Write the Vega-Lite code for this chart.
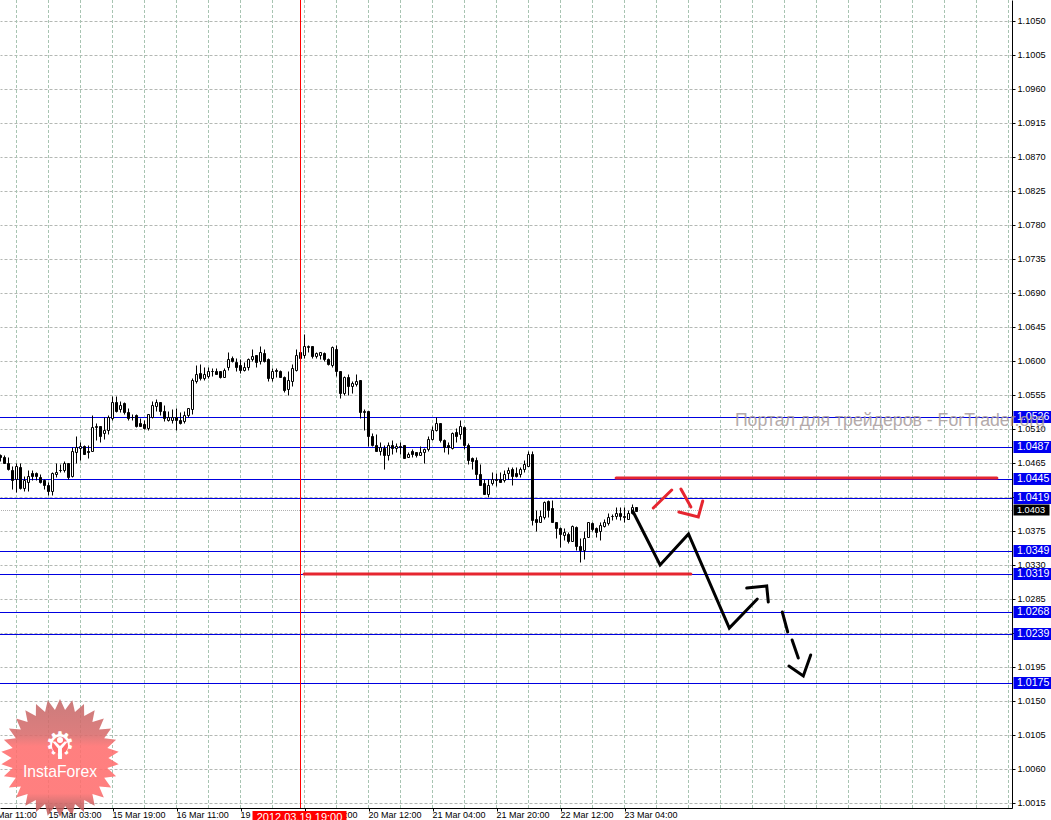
{"$schema":"https://vega.github.io/schema/vega-lite/v6.json","width":1012,"height":808,"autosize":{"type":"none"},"padding":{"left":0,"top":0,"right":39,"bottom":12},"background":"white","config":{"view":{"stroke":null},"text":{"font":"Liberation Sans"}},
"datasets":{
"grid":[{"b":4},{"b":12},{"b":20},{"b":28},{"b":36},{"b":44},{"b":52},{"b":60},{"b":68},{"b":76},{"b":84},{"b":92},{"b":100},{"b":108},{"b":116},{"b":124},{"b":132},{"b":140},{"b":148},{"b":156},{"b":164},{"b":172},{"b":180},{"b":188},{"b":196},{"b":204},{"b":212},{"b":220},{"b":228},{"b":236},{"b":244},{"b":252}],
"levels":[{"p":1.0526},{"p":1.0487},{"p":1.0445},{"p":1.0419},{"p":1.0349},{"p":1.0319},{"p":1.0268},{"p":1.0239},{"p":1.0175}],
"dates":[{"b":-4,"t":"14 Mar 11:00"},{"b":12,"t":"15 Mar 03:00"},{"b":28,"t":"15 Mar 19:00"},{"b":44,"t":"16 Mar 11:00"},{"b":60,"t":"19 Mar 03:00"},{"b":76,"t":"19 Mar 19:00"},{"b":92,"t":"20 Mar 12:00"},{"b":108,"t":"21 Mar 04:00"},{"b":124,"t":"21 Mar 20:00"},{"b":140,"t":"22 Mar 12:00"},{"b":156,"t":"23 Mar 04:00"}],
"black":[{"s":"A","i":0,"b":158.05,"p":1.0402},{"s":"A","i":1,"b":164.9,"p":1.0331},{"s":"A","i":2,"b":172,"p":1.0372},{"s":"A","i":3,"b":182.2,"p":1.0247},{"s":"A","i":4,"b":189.2,"p":1.0286},{"s":"B","i":0,"b":186.55,"p":1.03},{"s":"B","i":1,"b":191.55,"p":1.0303},{"s":"B","i":2,"b":191.95,"p":1.0281},{"s":"C","i":0,"b":195.45,"p":1.0269},{"s":"C","i":1,"b":196.8,"p":1.0242},{"s":"D","i":0,"b":197.9,"p":1.0232},{"s":"D","i":1,"b":199.45,"p":1.0207},{"s":"E","i":0,"b":197.1,"p":1.0197},{"s":"E","i":1,"b":200.7,"p":1.0184},{"s":"E","i":2,"b":202.55,"p":1.0211}],
"red":[{"s":"F","i":0,"b":163.2,"p":1.0406},{"s":"F","i":1,"b":167.8,"p":1.043},{"s":"G","i":0,"b":170.1,"p":1.0431},{"s":"G","i":1,"b":172.6,"p":1.0408},{"s":"H","i":0,"b":169.6,"p":1.0401},{"s":"H","i":1,"b":174.45,"p":1.0394},{"s":"H","i":2,"b":175.55,"p":1.0415},{"s":"I","i":0,"b":153.9,"p":1.0446},{"s":"I","i":1,"b":249.1,"p":1.0446},{"s":"J","i":0,"b":75.9,"p":1.0319},{"s":"J","i":1,"b":172.6,"p":1.0319}],
"candles":[
{"b":0,"h":1.0477,"o":1.0476,"c":1.0473,"l":1.0468},{"b":1,"h":1.0476,"o":1.0474,"c":1.0466,"l":1.0465},{"b":2,"h":1.0473,"o":1.0465,"c":1.0458,"l":1.0457},{"b":3,"h":1.0461,"o":1.0457,"c":1.0443,"l":1.0431},{"b":4,"h":1.0465,"c":1.0461,"o":1.0444,"l":1.0427},{"b":5,"h":1.0465,"o":1.046,"c":1.0433,"l":1.0431},{"b":6,"h":1.0448,"c":1.0443,"o":1.0432,"l":1.0429},{"b":7,"h":1.0457,"c":1.0449,"o":1.0441,"l":1.0429},{"b":8,"h":1.0457,"o":1.0452,"c":1.0449,"l":1.0443},{"b":9,"h":1.0454,"o":1.0453,"c":1.0448,"l":1.0443},
{"b":10,"h":1.0451,"o":1.0447,"c":1.044,"l":1.0439},{"b":11,"h":1.0444,"o":1.0443,"c":1.0437,"l":1.0431},{"b":12,"h":1.0441,"o":1.0437,"c":1.0429,"l":1.0423},{"b":13,"h":1.0454,"c":1.0453,"o":1.0428,"l":1.0423},{"b":14,"h":1.0466,"c":1.0454,"o":1.0451,"l":1.0447},{"b":15,"h":1.0464,"o":1.0457,"c":1.0456,"l":1.0454},{"b":16,"h":1.0468,"c":1.0466,"o":1.0457,"l":1.0454},{"b":17,"h":1.0466,"o":1.0465,"c":1.0447,"l":1.0445},{"b":18,"h":1.0487,"c":1.0481,"o":1.0448,"l":1.0447},{"b":19,"h":1.0502,"c":1.0487,"o":1.048,"l":1.0465},
{"b":20,"h":1.0493,"c":1.0488,"o":1.0485,"l":1.047},{"b":21,"h":1.049,"o":1.0488,"c":1.0478,"l":1.0477},{"b":22,"h":1.0489,"o":1.0482,"c":1.048,"l":1.0472},{"b":23,"h":1.0529,"c":1.0513,"o":1.0482,"l":1.0481},{"b":24,"h":1.0518,"c":1.0515,"o":1.0513,"l":1.0496},{"b":25,"h":1.0515,"o":1.0514,"c":1.0502,"l":1.0493},{"b":26,"h":1.0527,"c":1.0509,"o":1.0505,"l":1.0498},{"b":27,"h":1.0529,"c":1.0527,"o":1.0509,"l":1.0504},{"b":28,"h":1.0554,"c":1.0546,"o":1.0525,"l":1.0522},{"b":29,"h":1.0554,"o":1.0546,"c":1.0535,"l":1.0533},
{"b":30,"h":1.0548,"c":1.0543,"o":1.0537,"l":1.0533},{"b":31,"h":1.0546,"o":1.0545,"c":1.0533,"l":1.0531},{"b":32,"h":1.0538,"o":1.0533,"c":1.0525,"l":1.0523},{"b":33,"h":1.053,"o":1.0527,"c":1.0526,"l":1.0523},{"b":34,"h":1.053,"o":1.0529,"c":1.0514,"l":1.0513},{"b":35,"h":1.0525,"o":1.0519,"c":1.0515,"l":1.0514},{"b":36,"h":1.0523,"o":1.0517,"c":1.0512,"l":1.051},{"b":37,"h":1.0531,"c":1.053,"o":1.0512,"l":1.0509},{"b":38,"h":1.0548,"c":1.0542,"o":1.0526,"l":1.0525},{"b":39,"h":1.055,"c":1.0546,"o":1.0541,"l":1.0535},
{"b":40,"h":1.0547,"o":1.0546,"c":1.0534,"l":1.0529},{"b":41,"h":1.0543,"o":1.0534,"c":1.0525,"l":1.0521},{"b":42,"h":1.0534,"c":1.0526,"o":1.0522,"l":1.0521},{"b":43,"h":1.0537,"c":1.0526,"o":1.0522,"l":1.0519},{"b":44,"h":1.0539,"o":1.0527,"c":1.0522,"l":1.0509},{"b":45,"h":1.0533,"o":1.0522,"c":1.0519,"l":1.0517},{"b":46,"h":1.0535,"c":1.0529,"o":1.0521,"l":1.0519},{"b":47,"h":1.0539,"c":1.0538,"o":1.0529,"l":1.0527},{"b":48,"h":1.0578,"c":1.0576,"o":1.0537,"l":1.053},{"b":49,"h":1.0595,"c":1.0584,"o":1.0574,"l":1.0571},
{"b":50,"h":1.0596,"o":1.0585,"c":1.0578,"l":1.0576},{"b":51,"h":1.0593,"c":1.0584,"o":1.0578,"l":1.0575},{"b":52,"h":1.0593,"c":1.0587,"o":1.0581,"l":1.0578},{"b":53,"h":1.0591,"o":1.0588,"c":1.0587,"l":1.0581},{"b":54,"h":1.0592,"o":1.0587,"c":1.0584,"l":1.0583},{"b":55,"h":1.0588,"o":1.0587,"c":1.0579,"l":1.0578},{"b":56,"h":1.0591,"c":1.0589,"o":1.058,"l":1.0579},{"b":57,"h":1.0612,"c":1.0603,"o":1.0593,"l":1.0589},{"b":58,"h":1.0607,"o":1.0604,"c":1.06,"l":1.0599},{"b":59,"h":1.0605,"o":1.0599,"c":1.0593,"l":1.0588},
{"b":60,"h":1.0603,"o":1.0595,"c":1.0589,"l":1.0585},{"b":61,"h":1.0599,"c":1.0593,"o":1.0589,"l":1.0587},{"b":62,"h":1.0605,"c":1.0603,"o":1.0593,"l":1.0589},{"b":63,"h":1.0616,"c":1.0607,"o":1.0603,"l":1.06},{"b":64,"h":1.0609,"o":1.0608,"c":1.0599,"l":1.0593},{"b":65,"h":1.062,"c":1.0612,"o":1.06,"l":1.0596},{"b":66,"h":1.0617,"o":1.0611,"c":1.06,"l":1.0599},{"b":67,"h":1.0604,"o":1.0603,"c":1.0578,"l":1.0574},{"b":68,"h":1.0592,"c":1.0588,"o":1.0578,"l":1.0574},{"b":69,"h":1.0591,"o":1.0589,"c":1.0588,"l":1.058},
{"b":70,"h":1.0589,"o":1.0588,"c":1.058,"l":1.0579},{"b":71,"h":1.0581,"o":1.058,"c":1.0562,"l":1.056},{"b":72,"h":1.0587,"c":1.0575,"o":1.0563,"l":1.0556},{"b":73,"h":1.0596,"c":1.0592,"o":1.0574,"l":1.0568},{"b":74,"h":1.0616,"c":1.0608,"o":1.0589,"l":1.0587},{"b":75,"h":1.0617,"o":1.0612,"c":1.0605,"l":1.0603},{"b":76,"h":1.0636,"c":1.062,"o":1.0609,"l":1.0605},{"b":77,"h":1.0622,"c":1.062,"o":1.0619,"l":1.0612},{"b":78,"h":1.0621,"o":1.062,"c":1.0607,"l":1.0605},{"b":79,"h":1.0613,"c":1.0611,"o":1.0607,"l":1.0605},
{"b":80,"h":1.0612,"c":1.0612,"o":1.0609,"l":1.0603},{"b":81,"h":1.0612,"o":1.0611,"c":1.0603,"l":1.0601},{"b":82,"h":1.0604,"o":1.0603,"c":1.0596,"l":1.0595},{"b":83,"h":1.062,"c":1.0619,"o":1.0595,"l":1.0593},{"b":84,"h":1.0622,"o":1.0617,"c":1.0587,"l":1.0581},{"b":85,"h":1.0587,"o":1.0587,"c":1.0558,"l":1.0552},{"b":86,"h":1.0581,"c":1.058,"o":1.0558,"l":1.0556},{"b":87,"h":1.0584,"o":1.0579,"c":1.0568,"l":1.0556},{"b":88,"h":1.0574,"c":1.0572,"o":1.0567,"l":1.0558},{"b":89,"h":1.0583,"c":1.0574,"o":1.057,"l":1.0568},
{"b":90,"h":1.0575,"o":1.0575,"c":1.0533,"l":1.0525},{"b":91,"h":1.0537,"c":1.0535,"o":1.0533,"l":1.0509},{"b":92,"h":1.0535,"o":1.0534,"c":1.0501,"l":1.0488},{"b":93,"h":1.0505,"o":1.0501,"c":1.049,"l":1.0488},{"b":94,"h":1.0504,"o":1.049,"c":1.0481,"l":1.0481},{"b":95,"h":1.0493,"c":1.0487,"o":1.0482,"l":1.0476},{"b":96,"h":1.049,"o":1.0485,"c":1.0476,"l":1.0458},{"b":97,"h":1.0494,"c":1.049,"o":1.0476,"l":1.0469},{"b":98,"h":1.0496,"o":1.0489,"c":1.0485,"l":1.0477},{"b":99,"h":1.0492,"c":1.0488,"o":1.0485,"l":1.048},
{"b":100,"h":1.0494,"o":1.0488,"c":1.0487,"l":1.0477},{"b":101,"h":1.0489,"o":1.0489,"c":1.0472,"l":1.0472},{"b":102,"h":1.048,"c":1.0478,"o":1.0474,"l":1.0473},{"b":103,"h":1.0484,"o":1.0481,"c":1.0478,"l":1.0474},{"b":104,"h":1.048,"o":1.048,"c":1.0476,"l":1.0473},{"b":105,"h":1.0488,"c":1.048,"o":1.0476,"l":1.0476},{"b":106,"h":1.0485,"c":1.0484,"o":1.048,"l":1.0466},{"b":107,"h":1.0501,"c":1.0498,"o":1.0484,"l":1.0481},{"b":108,"h":1.0514,"c":1.0509,"o":1.0498,"l":1.0496},{"b":109,"h":1.0527,"c":1.0519,"o":1.0509,"l":1.0508},
{"b":110,"h":1.0518,"o":1.0518,"c":1.0496,"l":1.0494},{"b":111,"h":1.0497,"o":1.0496,"c":1.0487,"l":1.048},{"b":112,"h":1.0493,"o":1.049,"c":1.0487,"l":1.0478},{"b":113,"h":1.0506,"c":1.0505,"o":1.0485,"l":1.0484},{"b":114,"h":1.0512,"o":1.0506,"c":1.0502,"l":1.0494},{"b":115,"h":1.0523,"c":1.0514,"o":1.0504,"l":1.0498},{"b":116,"h":1.0514,"o":1.0513,"c":1.049,"l":1.0484},{"b":117,"h":1.0492,"o":1.049,"c":1.0469,"l":1.0464},{"b":118,"h":1.0474,"o":1.0472,"c":1.0468,"l":1.0458},{"b":119,"h":1.0473,"o":1.047,"c":1.0451,"l":1.0444},
{"b":120,"h":1.0464,"o":1.0451,"c":1.0436,"l":1.0436},{"b":121,"h":1.0445,"o":1.0439,"c":1.0425,"l":1.0424},{"b":122,"h":1.0444,"c":1.0437,"o":1.0424,"l":1.0421},{"b":123,"h":1.0454,"c":1.0444,"o":1.0439,"l":1.0437},{"b":124,"h":1.0453,"o":1.0444,"c":1.0443,"l":1.0435},{"b":125,"h":1.0454,"o":1.0444,"c":1.0441,"l":1.044},{"b":126,"h":1.0456,"c":1.0451,"o":1.0443,"l":1.044},{"b":127,"h":1.046,"c":1.0457,"o":1.0452,"l":1.0444},{"b":128,"h":1.046,"o":1.0458,"c":1.0448,"l":1.0437},{"b":129,"h":1.046,"o":1.0452,"c":1.0449,"l":1.0447},
{"b":130,"h":1.046,"c":1.0458,"o":1.0451,"l":1.0447},{"b":131,"h":1.047,"c":1.0464,"o":1.0458,"l":1.0454},{"b":132,"h":1.0481,"c":1.0477,"o":1.0462,"l":1.0461},{"b":133,"h":1.0482,"o":1.0478,"c":1.039,"l":1.0384},{"b":134,"h":1.0404,"o":1.0392,"c":1.0388,"l":1.0375},{"b":135,"h":1.0404,"c":1.0395,"o":1.0388,"l":1.0387},{"b":136,"h":1.0415,"c":1.0414,"o":1.0394,"l":1.0392},{"b":137,"h":1.0416,"o":1.0415,"c":1.0404,"l":1.0394},{"b":138,"h":1.0416,"o":1.0406,"c":1.0388,"l":1.0388},{"b":139,"h":1.0388,"o":1.0388,"c":1.0379,"l":1.0367},
{"b":140,"h":1.0381,"o":1.0379,"c":1.0371,"l":1.0355},{"b":141,"h":1.0379,"c":1.0374,"o":1.037,"l":1.0364},{"b":142,"h":1.0374,"o":1.0372,"c":1.0362,"l":1.036},{"b":143,"h":1.0383,"c":1.0382,"o":1.0363,"l":1.0362},{"b":144,"h":1.0382,"o":1.0381,"c":1.0356,"l":1.035},{"b":145,"h":1.0366,"o":1.0356,"c":1.035,"l":1.0335},{"b":146,"h":1.0375,"c":1.0367,"o":1.035,"l":1.0338},{"b":147,"h":1.0387,"c":1.0387,"o":1.0368,"l":1.0368},{"b":148,"h":1.0387,"o":1.0386,"c":1.0378,"l":1.0376},{"b":149,"h":1.0381,"o":1.0379,"c":1.0374,"l":1.0368},
{"b":150,"h":1.0387,"c":1.0383,"o":1.0375,"l":1.0364},{"b":151,"h":1.0391,"c":1.0388,"o":1.0382,"l":1.0381},{"b":152,"h":1.0399,"c":1.0394,"o":1.0386,"l":1.0384},{"b":153,"h":1.0398,"o":1.0396,"c":1.0395,"l":1.039},{"b":154,"h":1.0407,"c":1.0399,"o":1.0395,"l":1.0391},{"b":155,"h":1.0407,"o":1.04,"c":1.0395,"l":1.039},{"b":156,"h":1.0408,"o":1.0396,"c":1.0394,"l":1.0388},{"b":157,"h":1.0403,"c":1.04,"o":1.0392,"l":1.0391},{"b":158,"h":1.0411,"c":1.0407,"o":1.04,"l":1.0398},{"b":159,"h":1.0407,"o":1.0407,"c":1.0402,"l":1.0402}
]},
"layer":[
{"data":{"name":"grid"},"mark":{"type":"rule","color":"#a8c4b2","strokeWidth":1,"strokeDash":[3,2]},"encoding":{"x":{"field":"b","type":"quantitative","title":null,"scale":{"domain":[-0.125,252.875],"nice":false,"zero":false,"padding":0},"axis":{"orient":"bottom","values":[12,28,44,60,76,92,108,124,140,156],"tickCount":40,"labels":false,"grid":false,"ticks":true,"tickSize":3,"tickColor":"black","domain":true,"domainColor":"black","domainWidth":1}}}},
{"data":{"values":[{"p":1.0403}]},"mark":{"type":"rule","color":"#b0b0b0","strokeWidth":1,"strokeDash":[1,1],"yOffset":0.5},"encoding":{"y":{"field":"p","type":"quantitative","title":null,"scale":{"domain":[1.0009,1.10784],"nice":false,"zero":false,"round":true},"axis":{"orient":"right","values":[1.105,1.1005,1.096,1.0915,1.087,1.0825,1.078,1.0735,1.069,1.0645,1.06,1.0555,1.051,1.0465,1.042,1.0375,1.033,1.0285,1.024,1.0195,1.015,1.0105,1.006,1.0015],"tickCount":40,"format":".4f","labelFont":"Liberation Sans","labelFontSize":9.2,"labelColor":"black","labelPadding":2,"labelOffset":-0.5,"labelOverlap":false,"labelBound":false,"labelFlush":false,"tickSize":3,"tickColor":"black","domain":true,"domainColor":"black","domainWidth":1,"grid":true,"gridColor":"#b4b8b4","gridDash":[3,2],"gridWidth":1}}}},
{"data":{"values":[{"b":14.875,"p":1.0075}]},"mark":{"type":"point","filled":true,"size":13924,"opacity":0.88,"fill":{"gradient":"linear","x1":0,"y1":0,"x2":0,"y2":1,"stops":[{"offset":0,"color":"#c46a6a"},{"offset":0.3,"color":"#d86c6c"},{"offset":0.4,"color":"#ff6e6e"},{"offset":0.8,"color":"#ff6e6e"},{"offset":0.9,"color":"#c86060"},{"offset":1,"color":"#c06060"}]},"shape":"M0,-1L.0857,-.8155L.208,-.978L.2534,-.7799L.4067,-.9135L.41,-.7101L.5878,-.809L.5487,-.6094L.7431,-.6691L.6634,-.482L.866,-.5L.7491,-.3335L.9511,-.309L.8021,-.1705L.9945,-.1045L.82,0L.9945,.1045L.8021,.1705L.9511,.309L.7491,.3335L.866,.5L.6634,.482L.7431,.6691L.5487,.6094L.5878,.809L.41,.7101L.4067,.9135L.2534,.7799L.208,.978L.0857,.8155L0,1L-.0857,.8155L-.208,.978L-.2534,.7799L-.4067,.9135L-.41,.7101L-.5878,.809L-.5487,.6094L-.7431,.6691L-.6634,.482L-.866,.5L-.7491,.3335L-.9511,.309L-.8021,.1705L-.9945,.1045L-.82,0L-.9945,-.1045L-.8021,-.1705L-.9511,-.309L-.7491,-.3335L-.866,-.5L-.6634,-.482L-.7431,-.6691L-.5487,-.6094L-.5878,-.809L-.41,-.7101L-.4067,-.9135L-.2534,-.7799L-.208,-.978L-.0857,-.8155Z"},"encoding":{"x":{"field":"b","type":"quantitative","title":null,"scale":{"domain":[-0.125,252.875],"nice":false,"zero":false,"padding":0}},"y":{"field":"p","type":"quantitative","title":null,"scale":{"domain":[1.0009,1.10784],"nice":false,"zero":false,"round":true}}}},
{"data":{"values":[{"b":14.875,"p":1.0091,"t":"⚙"}]},"mark":{"type":"text","font":"DejaVu Sans","fontSize":34,"color":"white","align":"center","baseline":"middle"},"encoding":{"text":{"field":"t"},"x":{"field":"b","type":"quantitative","title":null,"scale":{"domain":[-0.125,252.875],"nice":false,"zero":false,"padding":0}},"y":{"field":"p","type":"quantitative","title":null,"scale":{"domain":[1.0009,1.10784],"nice":false,"zero":false,"round":true}}}},
{"data":{"values":[{"b":14.875,"p":1.00905}]},"mark":{"type":"point","filled":true,"shape":"circle","size":260,"opacity":1,"fill":"#ff6e6e"},"encoding":{"x":{"field":"b","type":"quantitative","title":null,"scale":{"domain":[-0.125,252.875],"nice":false,"zero":false,"padding":0}},"y":{"field":"p","type":"quantitative","title":null,"scale":{"domain":[1.0009,1.10784],"nice":false,"zero":false,"round":true}}}},
{"data":{"values":[{"b":14.875,"p":1.00984}]},"mark":{"type":"point","filled":true,"shape":"circle","size":36,"opacity":1,"fill":"white"},"encoding":{"x":{"field":"b","type":"quantitative","title":null,"scale":{"domain":[-0.125,252.875],"nice":false,"zero":false,"padding":0}},"y":{"field":"p","type":"quantitative","title":null,"scale":{"domain":[1.0009,1.10784],"nice":false,"zero":false,"round":true}}}},
{"data":{"values":[{"b":14.875,"p":1.00905}]},"mark":{"type":"point","filled":true,"size":676,"opacity":1,"fill":"white","shape":"M-.6,-.35L-.35,-.35L0,0L.35,-.35L.6,-.35L.15,.2L.15,1L-.15,1L-.15,.2Z"},"encoding":{"x":{"field":"b","type":"quantitative","title":null,"scale":{"domain":[-0.125,252.875],"nice":false,"zero":false,"padding":0}},"y":{"field":"p","type":"quantitative","title":null,"scale":{"domain":[1.0009,1.10784],"nice":false,"zero":false,"round":true}}}},
{"data":{"values":[{"b":14.875,"p":1.00494,"t":"InstaForex"}]},"mark":{"type":"text","font":"Liberation Sans","fontSize":15.7,"color":"white","align":"center","baseline":"alphabetic"},"encoding":{"text":{"field":"t"},"x":{"field":"b","type":"quantitative","title":null,"scale":{"domain":[-0.125,252.875],"nice":false,"zero":false,"padding":0}},"y":{"field":"p","type":"quantitative","title":null,"scale":{"domain":[1.0009,1.10784],"nice":false,"zero":false,"round":true}}}},
{"data":{"name":"levels"},"mark":{"type":"rule","color":"#0000e0","strokeWidth":1,"yOffset":0.5},"encoding":{"y":{"field":"p","type":"quantitative","title":null,"scale":{"domain":[1.0009,1.10784],"nice":false,"zero":false,"round":true}}}},
{"data":{"name":"candles"},"mark":{"type":"rule","color":"black","strokeWidth":1,"yOffset":0.5,"y2Offset":0.5},"encoding":{"x":{"field":"b","type":"quantitative","title":null,"scale":{"domain":[-0.125,252.875],"nice":false,"zero":false,"padding":0}},"y":{"field":"l","type":"quantitative","title":null,"scale":{"domain":[1.0009,1.10784],"nice":false,"zero":false,"round":true}},"y2":{"field":"h"}}},
{"data":{"name":"candles"},"mark":{"type":"bar","size":2,"stroke":"black","strokeWidth":1,"opacity":1,"yOffset":0.5,"y2Offset":0.5},"encoding":{"x":{"field":"b","type":"quantitative","title":null,"scale":{"domain":[-0.125,252.875],"nice":false,"zero":false,"padding":0}},"y":{"field":"o","type":"quantitative","title":null,"scale":{"domain":[1.0009,1.10784],"nice":false,"zero":false,"round":true}},"y2":{"field":"c"},"fill":{"condition":{"test":"datum.c>datum.o","value":"white"},"value":"black"}}},
{"data":{"name":"black"},"mark":{"type":"line","color":"black","strokeWidth":3,"strokeCap":"round"},"encoding":{"x":{"field":"b","type":"quantitative","title":null,"scale":{"domain":[-0.125,252.875],"nice":false,"zero":false,"padding":0}},"y":{"field":"p","type":"quantitative","title":null,"scale":{"domain":[1.0009,1.10784],"nice":false,"zero":false,"round":true}},"detail":{"field":"s"},"order":{"field":"i"}}},
{"data":{"name":"red"},"mark":{"type":"line","color":"#e62630","strokeWidth":3,"strokeCap":"round"},"encoding":{"x":{"field":"b","type":"quantitative","title":null,"scale":{"domain":[-0.125,252.875],"nice":false,"zero":false,"padding":0}},"y":{"field":"p","type":"quantitative","title":null,"scale":{"domain":[1.0009,1.10784],"nice":false,"zero":false,"round":true}},"detail":{"field":"s"},"order":{"field":"i"}}},
{"data":{"values":[{"b":75}]},"mark":{"type":"rule","color":"#ff0000","strokeWidth":1},"encoding":{"x":{"field":"b","type":"quantitative","title":null,"scale":{"domain":[-0.125,252.875],"nice":false,"zero":false,"padding":0}}}},
{"data":{"name":"dates"},"mark":{"type":"text","font":"Liberation Sans","fontSize":9,"color":"black","align":"left","baseline":"alphabetic","clip":false},"encoding":{"text":{"field":"t"},"x":{"field":"b","type":"quantitative","title":null,"scale":{"domain":[-0.125,252.875],"nice":false,"zero":false,"padding":0}},"y":{"datum":0.99955,"type":"quantitative","title":null,"scale":{"domain":[1.0009,1.10784],"nice":false,"zero":false,"round":true}}}},
{"data":{"values":[{"b":63,"b2":86.5,"p":1.00044,"p2":0.9992}]},"mark":{"type":"rect","color":"#ff0000"},"encoding":{"x":{"field":"b","type":"quantitative","title":null,"scale":{"domain":[-0.125,252.875],"nice":false,"zero":false,"padding":0}},"x2":{"field":"b2"},"y":{"field":"p","type":"quantitative","title":null,"scale":{"domain":[1.0009,1.10784],"nice":false,"zero":false,"round":true}},"y2":{"field":"p2"}}},
{"data":{"values":[{"b":74.75,"p":0.99912,"t":"2012.03.19 19:00"}]},"mark":{"type":"text","font":"Liberation Sans","fontSize":11,"color":"white","align":"center","baseline":"alphabetic"},"encoding":{"text":{"field":"t"},"x":{"field":"b","type":"quantitative","title":null,"scale":{"domain":[-0.125,252.875],"nice":false,"zero":false,"padding":0}},"y":{"field":"p","type":"quantitative","title":null,"scale":{"domain":[1.0009,1.10784],"nice":false,"zero":false,"round":true}}}},
{"data":{"name":"levels"},"mark":{"type":"rect","color":"#0000f0","height":12},"encoding":{"x":{"datum":253.25,"type":"quantitative","title":null,"scale":{"domain":[-0.125,252.875],"nice":false,"zero":false,"padding":0}},"x2":{"datum":262.75},"y":{"field":"p","type":"quantitative","title":null,"scale":{"domain":[1.0009,1.10784],"nice":false,"zero":false,"round":true}}}},
{"data":{"name":"levels"},"mark":{"type":"text","font":"Liberation Sans","fontSize":10.6,"color":"white","align":"left","baseline":"middle"},"encoding":{"text":{"field":"p","type":"quantitative","format":".4f"},"x":{"datum":254.1,"type":"quantitative","title":null,"scale":{"domain":[-0.125,252.875],"nice":false,"zero":false,"padding":0}},"y":{"field":"p","type":"quantitative","title":null,"scale":{"domain":[1.0009,1.10784],"nice":false,"zero":false,"round":true}}}},
{"data":{"values":[{"p":1.0403}]},"mark":{"type":"rect","color":"black","height":11},"encoding":{"x":{"datum":253.25,"type":"quantitative","title":null,"scale":{"domain":[-0.125,252.875],"nice":false,"zero":false,"padding":0}},"x2":{"datum":262.25},"y":{"field":"p","type":"quantitative","title":null,"scale":{"domain":[1.0009,1.10784],"nice":false,"zero":false,"round":true}}}},
{"data":{"values":[{"p":1.0403}]},"mark":{"type":"text","font":"Liberation Sans","fontSize":9.2,"color":"white","align":"left","baseline":"middle"},"encoding":{"text":{"field":"p","type":"quantitative","format":".4f"},"x":{"datum":254.1,"type":"quantitative","title":null,"scale":{"domain":[-0.125,252.875],"nice":false,"zero":false,"padding":0}},"y":{"field":"p","type":"quantitative","title":null,"scale":{"domain":[1.0009,1.10784],"nice":false,"zero":false,"round":true}}}},
{"data":{"values":[{"b":183.6,"p":1.0514,"t":"Портал для трейдеров  -  ForTrader.org"}]},"mark":{"type":"text","font":"Liberation Sans","fontSize":17.7,"color":"#a89c9c","opacity":0.85,"align":"left","baseline":"alphabetic"},"encoding":{"text":{"field":"t"},"x":{"field":"b","type":"quantitative","title":null,"scale":{"domain":[-0.125,252.875],"nice":false,"zero":false,"padding":0}},"y":{"field":"p","type":"quantitative","title":null,"scale":{"domain":[1.0009,1.10784],"nice":false,"zero":false,"round":true}}}}
]}
